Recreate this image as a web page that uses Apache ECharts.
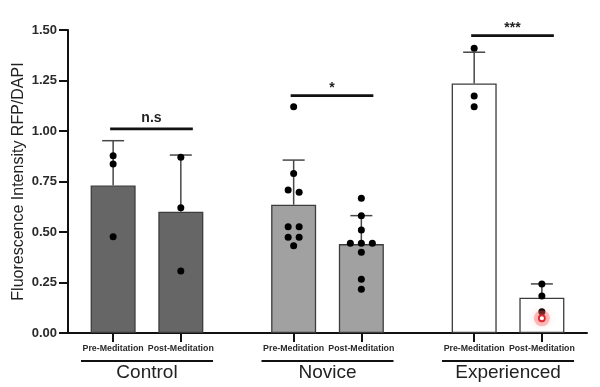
<!DOCTYPE html>
<html>
<head>
<meta charset="utf-8">
<script src="https://cdn.jsdelivr.net/npm/echarts@6/dist/echarts.min.js"></script>
<style>html,body{margin:0;padding:0;background:#fff}#c{width:600px;height:387px}</style>
</head>
<body>
<div id="c"></div>
<script>
// ---- data ----
const conditions = ['Pre-Meditation', 'Post-Meditation', 'Pre-Meditation', 'Post-Meditation', 'Pre-Meditation', 'Post-Meditation'];
const groups = ['Control', 'Novice', 'Experienced'];
const means = [0.73, 0.60, 0.635, 0.44, 1.235, 0.175];
const sdUpper = [0.222, 0.281, 0.221, 0.141, 0.155, 0.068];
const ctrlPre = [0.878, 0.837, 0.477];
const ctrlPost = [0.87, 0.62, 0.307];
const novPre = [1.12, 0.79, 0.708, 0.697, 0.526, 0.526, 0.474, 0.474, 0.432];
const novPreJitter = [0, 0, -1, 1, -1, 1, -1, 1, 0];
const novPost = [0.667, 0.581, 0.51, 0.444, 0.444, 0.444, 0.40, 0.266, 0.216];
const novPostJitter = [0, 0, 0, -2, 0, 2, 0, 0, 0];
const expPre = [1.41, 1.173, 1.12];
const expPost = [0.243, 0.183, 0.105];
const cursorMark = [0.073];
const sigLabels = ['n.s', '*', '***'];
const sigHeights = [1.011, 1.175, 1.472];
const yTicks = [0, 0.25, 0.5, 0.75, 1.0, 1.25, 1.5];

// ---- layout / style ----
const SLOT = [0, 3, 8, 11, 16, 19];
const barColors = ['#666666', '#a1a1a1', '#ffffff'];
const JIT = 5.5;
const pointSets = [
  [ctrlPre, null], [ctrlPost, null], [novPre, novPreJitter],
  [novPost, novPostJitter], [expPre, null], [expPost, null]
];
const pointData = [];
pointSets.forEach((ps, i) => {
  ps[0].forEach((v, j) => {
    const jj = ps[1] ? ps[1][j] : 0;
    pointData.push({ value: [SLOT[i], v], symbolOffset: [jj * JIT, 0] });
  });
});
const barData = means.map((m, i) => ({
  value: [SLOT[i], m],
  itemStyle: { color: barColors[Math.floor(i / 2)] }
}));
const errData = means.map((m, i) => [SLOT[i], m, m + sdUpper[i]]);
const sigData = groups.map((g, i) => [SLOT[2 * i], SLOT[2 * i + 1], sigHeights[i], i]);
const groupData = groups.map((g, i) => [SLOT[2 * i], SLOT[2 * i + 1], i]);

const chart = echarts.init(document.getElementById('c'), null, { renderer: 'canvas' });
const FONT = 'Liberation Sans, Arial, sans-serif';
chart.setOption({
  animation: false,
  backgroundColor: '#ffffff',
  grid: { left: 68, right: 13, top: 30, bottom: 54, containLabel: false, outerBoundsMode: 'none' },
  xAxis: {
    type: 'value', min: -2, max: 21,
    splitLine: { show: false },
    axisLine: { show: true, onZero: false, lineStyle: { color: '#111', width: 2 } },
    axisTick: { show: true, customValues: SLOT, length: 9, lineStyle: { color: '#111', width: 2 } },
    axisLabel: {
      show: true, customValues: SLOT, margin: 11,
      fontFamily: FONT, fontSize: 8.8, fontWeight: 'bold', color: '#2a2a2a',
      formatter: (v) => conditions[SLOT.indexOf(v)] || ''
    }
  },
  yAxis: {
    type: 'value', min: 0, max: 1.5, interval: 0.25,
    name: 'Fluorescence Intensity RFP/DAPI',
    nameLocation: 'middle', nameGap: 41, nameRotate: 90, nameMoveOverlap: false,
    nameTextStyle: { fontFamily: FONT, fontSize: 16, color: '#222' },
    splitLine: { show: false },
    axisLine: { show: true, onZero: false, lineStyle: { color: '#111', width: 2 } },
    axisTick: { show: true, length: 9, lineStyle: { color: '#111', width: 2 } },
    axisLabel: {
      margin: 11, fontFamily: FONT, fontSize: 13, fontWeight: 'bold', color: '#2a2a2a',
      formatter: (v) => v.toFixed(2)
    }
  },
  series: [
    {
      type: 'bar', data: barData, barWidth: 45, z: 2,
      itemStyle: { borderColor: '#3c3c3c', borderWidth: 1.3 }
    },
    {
      type: 'custom', data: errData, z: 3, clip: false,
      renderItem: (params, api) => {
        const b = api.coord([api.value(0), api.value(1)]);
        const t = api.coord([api.value(0), api.value(2)]);
        const st = { stroke: '#474747', lineWidth: 1.5 };
        return { type: 'group', children: [
          { type: 'line', shape: { x1: b[0], y1: b[1], x2: t[0], y2: t[1] }, style: st },
          { type: 'line', shape: { x1: t[0] - 11, y1: t[1], x2: t[0] + 11, y2: t[1] }, style: st }
        ]};
      }
    },
    {
      type: 'scatter', data: pointData, symbolSize: 7, z: 4,
      itemStyle: { color: '#000', opacity: 1 }
    },
    {
      type: 'custom', data: cursorMark.map(v => [SLOT[5], v]), z: 5, clip: false,
      renderItem: (params, api) => {
        const p = api.coord([api.value(0), api.value(1)]);
        return { type: 'group', children: [
          { type: 'circle', shape: { cx: p[0], cy: p[1], r: 8 }, style: { fill: 'rgba(245,90,90,0.35)', shadowBlur: 6, shadowColor: 'rgba(245,90,90,0.6)' } },
          { type: 'circle', shape: { cx: p[0], cy: p[1], r: 3 }, style: { fill: '#fff', stroke: '#e0262e', lineWidth: 1.8 } }
        ]};
      }
    },
    {
      type: 'custom', data: sigData, z: 5, clip: false,
      renderItem: (params, api) => {
        const a = api.coord([api.value(0), api.value(2)]);
        const b = api.coord([api.value(1), api.value(2)]);
        const x1 = a[0] - 3, x2 = b[0] + 12;
        const lab = sigLabels[api.value(3)];
        return { type: 'group', children: [
          { type: 'line', shape: { x1: x1, y1: a[1], x2: x2, y2: a[1] }, style: { stroke: '#111', lineWidth: 2.8 } },
          { type: 'text', x: (x1 + x2) / 2, y: a[1] - (lab === 'n.s' ? 4 : 1),
            style: { text: lab, fontFamily: FONT, fontSize: 14, fontWeight: 'bold', fill: '#222', align: 'center', verticalAlign: 'bottom' } }
        ]};
      }
    },
    {
      type: 'custom', data: groupData, z: 5, clip: false,
      renderItem: (params, api) => {
        const a = api.coord([api.value(0), 0]);
        const b = api.coord([api.value(1), 0]);
        const cx = (a[0] + b[0]) / 2;
        return { type: 'group', children: [
          { type: 'line', shape: { x1: cx - 66, y1: a[1] + 28, x2: cx + 66, y2: a[1] + 28 }, style: { stroke: '#111', lineWidth: 2.2 } },
          { type: 'text', x: cx, y: a[1] + 40,
            style: { text: groups[api.value(2)], fontFamily: FONT, fontSize: 19, fill: '#222', align: 'center', verticalAlign: 'middle' } }
        ]};
      }
    }
  ]
});
</script>
</body>
</html>
